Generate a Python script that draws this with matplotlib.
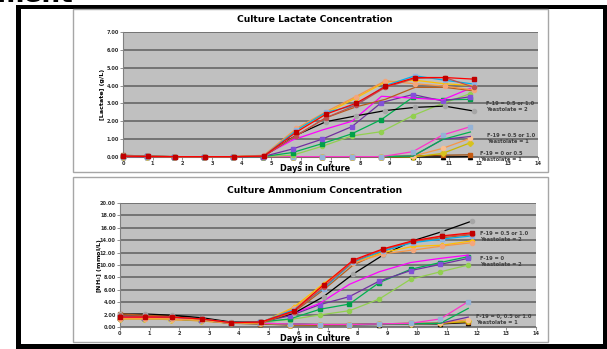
import numpy as np
import matplotlib.pyplot as plt
from matplotlib.patches import Rectangle

W, H = 607, 349

# sampling days (two feeding schedules)
days_hi = [0, 0.85, 1.75, 2.75, 3.75, 4.75, 5.85, 6.85, 7.85, 8.85, 9.85, 10.85, 11.85]
days_lo = [0, 0.8, 1.72, 2.72, 3.72, 4.72, 5.72, 6.72, 7.72, 8.72, 9.78, 10.78, 11.72]

# lactate, g/L
lac_red = [0.05, 0.03, 0.02, 0.02, 0.02, 0.05, 1.40, 2.40, 3.00, 3.95, 4.45, 4.45, 4.36]
lac_darkred = [0.05, 0.03, 0.02, 0.02, 0.02, 0.05, 1.20, 2.20, 2.90, 3.90, 4.40, 4.45, 3.90]
lac_blue = [0.05, 0.03, 0.02, 0.02, 0.02, 0.05, 1.50, 2.50, 2.90, 4.00, 4.55, 4.30, 4.08]
lac_orange = [0.05, 0.03, 0.02, 0.02, 0.02, 0.10, 1.60, 2.54, 3.38, 4.27, 4.10, 3.97, 3.75]
lac_gold = [0.05, 0.03, 0.02, 0.02, 0.02, 0.08, 1.50, 2.45, 3.30, 4.20, 4.30, 4.10, 4.00]
lac_brown = [0.05, 0.03, 0.02, 0.02, 0.02, 0.05, 1.20, 2.20, 2.80, 3.23, 3.90, 3.90, 3.70]
lac_black = [0.05, 0.03, 0.02, 0.02, 0.02, 0.05, 1.23, 1.98, 2.30, 2.60, 2.78, 2.85, 2.57]
lac_magenta = [0.05, 0.03, 0.02, 0.02, 0.02, 0.05, 0.95, 1.51, 2.00, 3.40, 3.30, 3.20, 3.85]
lac_purple = [0.05, 0.03, 0.02, 0.02, 0.02, 0.02, 0.45, 1.00, 1.70, 3.05, 3.50, 3.14, 3.38]
lac_green = [0.05, 0.03, 0.02, 0.02, 0.02, 0.02, 0.25, 0.75, 1.30, 2.10, 3.35, 3.20, 3.23]
lac_ygreen = [0.05, 0.03, 0.02, 0.02, 0.02, 0.02, 0.10, 0.60, 1.18, 1.42, 2.32, 3.00, 3.55]
lac_magenta_lo = [0.02, 0.02, 0.02, 0.02, 0.02, 0.02, 0.02, 0.02, 0.02, 0.02, 0.30, 1.23, 1.70]
lac_green_lo = [0.02, 0.02, 0.02, 0.02, 0.02, 0.02, 0.02, 0.02, 0.02, 0.02, 0.05, 0.98, 1.40]
lac_purple_lo = [0.02, 0.02, 0.02, 0.02, 0.02, 0.02, 0.02, 0.02, 0.02, 0.02, 0.05, 0.98, 1.15]
lac_salmon_lo = [0.02, 0.02, 0.02, 0.02, 0.02, 0.02, 0.02, 0.02, 0.02, 0.02, 0.05, 0.48, 1.05]
lac_gold_lo = [0.02, 0.02, 0.02, 0.02, 0.02, 0.02, 0.02, 0.02, 0.02, 0.02, 0.00, 0.20, 0.80]
lac_brown_lo = [0.10, 0.05, 0.02, 0.02, 0.02, 0.02, 0.02, 0.02, 0.02, 0.02, 0.05, 0.10, 0.12]
lac_black_lo = [0.02, 0.00, 0.02, 0.00, 0.00, 0.00, 0.00, 0.00, 0.00, 0.00, 0.00, 0.00, 0.02]

# ammonium, mmol/L
nh4_red = [1.6, 1.6, 1.6, 1.3, 0.7, 0.8, 2.6, 6.8, 10.8, 12.6, 13.9, 14.7, 15.2]
nh4_darkred = [1.8, 1.7, 1.6, 1.3, 0.7, 0.8, 2.5, 6.4, 10.6, 12.5, 13.8, 14.6, 15.0]
nh4_blue = [1.7, 1.7, 1.6, 1.3, 0.7, 0.8, 2.8, 6.2, 10.5, 12.3, 13.6, 14.2, 14.7]
nh4_orange = [1.3, 1.3, 1.3, 1.1, 0.6, 0.7, 3.0, 6.6, 10.3, 11.8, 12.4, 13.06, 13.6]
nh4_gold = [1.4, 1.4, 1.3, 1.1, 0.6, 0.7, 3.2, 7.0, 10.4, 12.0, 13.0, 13.2, 13.9]
nh4_brown = [2.1, 1.9, 1.7, 1.2, 0.6, 0.6, 2.4, 6.0, 10.0, 12.2, 13.8, 14.4, 14.9]
nh4_black = [2.1, 2.1, 1.9, 1.5, 0.8, 0.8, 2.2, 4.9, 8.55, 11.6, 13.9, 15.4, 17.1]
nh4_magenta = [1.5, 1.5, 1.5, 1.2, 0.6, 0.8, 2.0, 3.8, 6.88, 8.9, 10.4, 11.07, 11.6]
nh4_purple = [1.5, 1.5, 1.4, 1.2, 0.6, 0.8, 1.8, 3.6, 4.9, 7.4, 9.1, 10.1, 11.07]
nh4_green = [1.4, 1.4, 1.4, 1.2, 0.6, 0.8, 1.3, 2.85, 3.7, 7.15, 9.3, 10.4, 11.35]
nh4_ygreen = [1.3, 1.3, 1.3, 1.1, 0.6, 0.8, 1.2, 1.94, 2.63, 4.5, 7.7, 8.9, 10.0]
nh4_magenta_lo = [1.5, 1.5, 1.4, 1.1, 0.6, 0.6, 0.5, 0.4, 0.4, 0.5, 0.6, 1.3, 4.1]
nh4_green_lo = [1.4, 1.4, 1.3, 1.1, 0.6, 0.6, 0.5, 0.4, 0.4, 0.5, 0.5, 0.6, 3.0]
nh4_purple_lo = [1.5, 1.4, 1.3, 1.1, 0.6, 0.6, 0.5, 0.4, 0.4, 0.5, 0.5, 0.6, 1.6]
nh4_salmon_lo = [1.3, 1.3, 1.2, 1.0, 0.6, 0.6, 0.4, 0.4, 0.4, 0.5, 0.5, 0.6, 1.2]
nh4_gold_lo = [1.3, 1.3, 1.2, 1.0, 0.6, 0.6, 0.4, 0.4, 0.4, 0.5, 0.5, 0.6, 0.9]
nh4_brown_lo = [2.1, 1.8, 1.6, 1.2, 0.6, 0.5, 0.3, 0.3, 0.4, 0.5, 0.6, 0.6, 0.8]
nh4_black_lo = [2.0, 1.9, 1.82, 1.4, 0.6, 0.55, 0.4, 0.35, 0.35, 0.4, 0.5, 0.5, 0.7]

# name -> (days, line colour, marker, marker colour); drawn in this order
styles = {
    "black_lo": (days_lo, "#000000", "^", "#000000"),
    "brown_lo": (days_lo, "#984807", "s", "#C55A11"),
    "gold_lo": (days_lo, "#C9B800", "D", "#D6C21E"),
    "salmon_lo": (days_lo, "#F79646", "o", "#FABF8F"),
    "purple_lo": (days_lo, "#7030A0", "None", "#7030A0"),
    "green_lo": (days_lo, "#00B050", "None", "#00B050"),
    "magenta_lo": (days_lo, "#FF33CC", "s", "#95B3D7"),
    "ygreen": (days_lo, "#92D050", "o", "#92D050"),
    "green": (days_lo, "#00B050", "s", "#00A04A"),
    "purple": (days_lo, "#7030A0", "s", "#8350D8"),
    "magenta": (days_lo, "#FF00FF", "None", "#FF00FF"),
    "black": (days_hi, "#000000", "o", "#A6A6A6"),
    "brown": (days_hi, "#B85C1B", "None", "#B85C1B"),
    "gold": (days_hi, "#FFC000", "P", "#FFC000"),
    "orange": (days_hi, "#F79646", "o", "#F4A67A"),
    "blue": (days_hi, "#00B0F0", "s", "#8DB4E2"),
    "darkred": (days_hi, "#C0504D", "o", "#C0504D"),
    "red": (days_hi, "#FF0000", "s", "#C00000"),
}

lactate = {
    "black_lo": lac_black_lo, "brown_lo": lac_brown_lo, "gold_lo": lac_gold_lo,
    "salmon_lo": lac_salmon_lo, "purple_lo": lac_purple_lo, "green_lo": lac_green_lo,
    "magenta_lo": lac_magenta_lo, "ygreen": lac_ygreen, "green": lac_green,
    "purple": lac_purple, "magenta": lac_magenta, "black": lac_black,
    "brown": lac_brown, "gold": lac_gold, "orange": lac_orange, "blue": lac_blue,
    "darkred": lac_darkred, "red": lac_red,
}
ammonium = {
    "black_lo": nh4_black_lo, "brown_lo": nh4_brown_lo, "gold_lo": nh4_gold_lo,
    "salmon_lo": nh4_salmon_lo, "purple_lo": nh4_purple_lo, "green_lo": nh4_green_lo,
    "magenta_lo": nh4_magenta_lo, "ygreen": nh4_ygreen, "green": nh4_green,
    "purple": nh4_purple, "magenta": nh4_magenta, "black": nh4_black,
    "brown": nh4_brown, "gold": nh4_gold, "orange": nh4_orange, "blue": nh4_blue,
    "darkred": nh4_darkred, "red": nh4_red,
}

lac_notes = [(12.24, 3.13, "F-19 = 0.5 or 1.0\nYeastolate = 2"),
             (12.29, 1.33, "F-19 = 0.5 or 1.0\nYeastolate = 1"),
             (12.04, 0.34, "F-19 = 0 or 0.5\nYeastolate = 1")]
nh4_notes = [(12.13, 15.5, "F-19 = 0.5 or 1.0\nYeastolate = 2"),
             (12.13, 11.45, "F-19 = 0\nYeastolate = 2"),
             (11.98, 2.1, "F-19 = 0, 0.5 or 1.0\nYeastolate = 1")]

plt.rcParams["font.family"] = "DejaVu Sans"
fig = plt.figure(figsize=(W / 100, H / 100), dpi=100)


def fig_rect(x0, y0, x1, y1, **kw):
    fig.patches.append(Rectangle((x0 / W, 1 - y1 / H), (x1 - x0) / W, (y1 - y0) / H,
                                 transform=fig.transFigure, figure=fig, **kw))


def px_axes(x0, y0, x1, y1):
    return fig.add_axes([x0 / W, 1 - y1 / H, (x1 - x0) / W, (y1 - y0) / H])


# page heading (mostly off the top edge), page frame and chart boxes
fig.text(-3 / W, 1 - 2 / H, "ment", fontsize=19, fontweight="bold", va="baseline")
fig_rect(16, 4.5, 607, 8.5, color="black", lw=0)
fig_rect(16, 4.5, 21, 349, color="black", lw=0)
fig_rect(603, 4.5, 607, 349, color="black", lw=0)
fig_rect(16, 343.5, 607, 349, color="black", lw=0)
fig_rect(73, 8.5, 547.5, 172, fill=False, ec="#A6A6A6", lw=1)
fig_rect(73, 177, 547.5, 342, fill=False, ec="#A6A6A6", lw=1)


def draw(ax, data, ymax, ystep, ylabel, title, notes, xlab_y, title_y):
    ax.set_facecolor("#C0C0C0")
    for name, (days, lc, mk, mc) in styles.items():
        ax.plot(days, data[name], color=lc, lw=0.9, marker=mk, ms=3.0,
                mfc=mc, mec=mc, clip_on=False, zorder=3)
    ax.set_xlim(0, 14)
    ax.set_ylim(0, ymax)
    ax.set_xticks(range(15))
    ax.set_yticks(np.arange(0, ymax + 0.01, ystep))
    ax.set_yticklabels([f"{v:.2f}" for v in np.arange(0, ymax + 0.01, ystep)])
    ax.grid(axis="y", color="#6E6E6E", lw=1.3, zorder=1)
    ax.set_axisbelow(True)
    for s in ("top", "right"):
        ax.spines[s].set_visible(False)
    for s in ("left", "bottom"):
        ax.spines[s].set_color("#808080")
        ax.spines[s].set_linewidth(0.8)
    ax.tick_params(length=2, width=0.6, color="#808080", pad=1.0,
                   labelsize=3.6, labelcolor="#303030")
    for t in ax.get_xticklabels() + ax.get_yticklabels():
        t.set_fontweight("bold")
    ax.set_ylabel(ylabel, fontsize=4.6, fontweight="bold")
    for dx, dy, txt in notes:
        ax.text(dx, dy, txt, fontsize=3.7, fontweight="bold", color="#404040",
                va="top", ha="left", linespacing=1.25, zorder=4)
    fig.text(315 / W, 1 - title_y / H, title, fontsize=6.6, fontweight="bold",
             ha="center", va="center")
    fig.text(315 / W, 1 - xlab_y / H, "Days in Culture", fontsize=5.9,
             fontweight="bold", ha="center", va="center")


ax1 = px_axes(123, 32, 538, 157)
draw(ax1, lactate, 7, 1, "[Lactate] (g/L)", "Culture Lactate Concentration",
     lac_notes, 169, 19.5)
ax1.yaxis.set_label_coords(-0.043, 0.5)

ax2 = px_axes(120, 203, 536, 327)
draw(ax2, ammonium, 20, 2, "[NH$_4$] (mmol/L)", "Culture Ammonium Concentration",
     nh4_notes, 338.5, 190.5)
ax2.yaxis.set_label_coords(-0.038, 0.5)

fig.savefig("out.png", dpi=100)
